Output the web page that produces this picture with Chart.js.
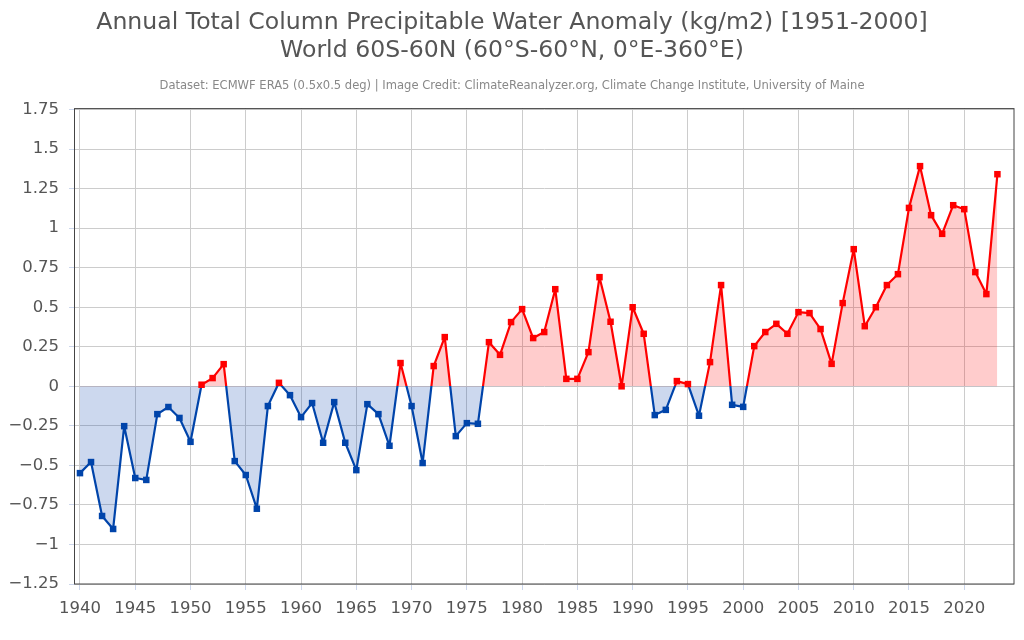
<!DOCTYPE html>
<html>
<head>
<meta charset="utf-8">
<title>Annual Total Column Precipitable Water Anomaly</title>
<script src="https://cdn.jsdelivr.net/npm/chart.js@4/dist/chart.umd.min.js"></script>
<style>
  html, body { margin: 0; padding: 0; background: #fff; }
  canvas { display: block; }
</style>
</head>
<body>
<canvas id="myChart" width="1024" height="640"></canvas>
<script>
var years = [1940, 1941, 1942, 1943, 1944, 1945, 1946, 1947, 1948, 1949,
    1950, 1951, 1952, 1953, 1954, 1955, 1956, 1957, 1958, 1959,
    1960, 1961, 1962, 1963, 1964, 1965, 1966, 1967, 1968, 1969,
    1970, 1971, 1972, 1973, 1974, 1975, 1976, 1977, 1978, 1979,
    1980, 1981, 1982, 1983, 1984, 1985, 1986, 1987, 1988, 1989,
    1990, 1991, 1992, 1993, 1994, 1995, 1996, 1997, 1998, 1999,
    2000, 2001, 2002, 2003, 2004, 2005, 2006, 2007, 2008, 2009,
    2010, 2011, 2012, 2013, 2014, 2015, 2016, 2017, 2018, 2019,
    2020, 2021, 2022, 2023];

var anomalies = [-0.549, -0.479, -0.82, -0.902, -0.252, -0.58, -0.592, -0.176, -0.131, -0.20,
    -0.351, 0.01, 0.052, 0.14, -0.473, -0.561, -0.774, -0.125, 0.022, -0.056,
    -0.195, -0.106, -0.357, -0.10, -0.357, -0.53, -0.113, -0.176, -0.376, 0.147,
    -0.125, -0.485, 0.128, 0.311, -0.315, -0.233, -0.237, 0.279, 0.199, 0.406,
    0.488, 0.305, 0.343, 0.614, 0.047, 0.047, 0.216, 0.69, 0.408, 0.0,
    0.50, 0.332, -0.182, -0.149, 0.033, 0.014, -0.186, 0.153, 0.64, -0.117,
    -0.13, 0.254, 0.343, 0.395, 0.332, 0.469, 0.463, 0.362, 0.142, 0.526,
    0.867, 0.38, 0.50, 0.64, 0.709, 1.128, 1.392, 1.082, 0.964, 1.145,
    1.12, 0.722, 0.583, 1.341];

var titleLines = [
    'Annual Total Column Precipitable Water Anomaly (kg/m2) [1951-2000]',
    'World 60S-60N (60\u00b0S-60\u00b0N, 0\u00b0E-360\u00b0E)'
];
var creditLine = 'Dataset: ECMWF ERA5 (0.5x0.5 deg) | Image Credit: ClimateReanalyzer.org, Climate Change Institute, University of Maine';

var RED = '#ff0000';
var BLUE = '#0044aa';

// line colour flips exactly at the zero line
function zeroGradient(context) {
    var chart = context.chart;
    if (!chart.chartArea) return RED;
    var area = chart.chartArea;
    var stop = (chart.scales.y.getPixelForValue(0) - area.top) / (area.bottom - area.top);
    var g = chart.ctx.createLinearGradient(0, area.top, 0, area.bottom);
    g.addColorStop(0, RED);
    g.addColorStop(stop, RED);
    g.addColorStop(stop, BLUE);
    g.addColorStop(1, BLUE);
    return g;
}

function pointColor(context) {
    return context.parsed && context.parsed.y < 0 ? BLUE : RED;
}

// box around the plot area
var plotBorder = {
    id: 'plotBorder',
    afterDatasetsDraw: function (chart) {
        var a = chart.chartArea, ctx = chart.ctx;
        ctx.save();
        ctx.strokeStyle = '#444';
        ctx.lineWidth = 1;
        ctx.strokeRect(a.left - 0.5, a.top + 0.5, a.right - a.left + 0.5, a.bottom - a.top - 0.5);
        ctx.restore();
    }
};

Chart.defaults.font.family = '"DejaVu Sans", sans-serif';

var myChart = new Chart(document.getElementById('myChart').getContext('2d'), {
    type: 'line',
    data: {
        datasets: [{
            data: years.map(function (y, i) { return {x: y, y: anomalies[i]}; }),
            borderColor: zeroGradient,
            borderWidth: 2.2,
            borderJoinStyle: 'round',
            tension: 0,
            pointStyle: 'rect',
            pointRadius: 4.6,
            pointBorderWidth: 0,
            pointBackgroundColor: pointColor,
            fill: {
                target: {value: 0},
                above: 'rgba(255, 0, 0, 0.2)',
                below: 'rgba(0, 60, 170, 0.2)'
            }
        }]
    },
    options: {
        responsive: false,
        animation: false,
        devicePixelRatio: 1,
        // equal side padding keeps the title centred on the page
        layout: {padding: {left: 10, right: 10}},
        scales: {
            x: {
                type: 'linear',
                min: 1939.55,
                max: 2024.5,
                afterFit: function (scale) { scale.height = 56; },
                grid: {color: '#cccccc', tickColor: '#ccd6eb', tickLength: 6},
                border: {display: false},
                ticks: {
                    stepSize: 5,
                    includeBounds: false,
                    maxRotation: 0,
                    color: '#555555',
                    font: {size: 16.5},
                    padding: 9,
                    callback: function (v) { return String(v); }
                }
            },
            y: {
                min: -1.25,
                max: 1.759,
                afterFit: function (scale) { scale.width = 65; },
                grid: {color: '#cccccc', tickColor: '#ccd6eb', tickLength: 6},
                border: {display: false},
                ticks: {
                    stepSize: 0.25,
                    includeBounds: false,
                    color: '#555555',
                    font: {size: 16.5},
                    padding: 10,
                    callback: function (v) { return String(v).replace('-', '\u2212'); }
                }
            }
        },
        plugins: {
            legend: {display: false},
            tooltip: {enabled: false},
            title: {
                display: true,
                text: titleLines,
                color: '#555555',
                font: {size: 23.6, weight: 'normal'},
                padding: {top: 8.5, bottom: 14}
            },
            subtitle: {
                display: true,
                text: creditLine,
                color: '#888888',
                font: {size: 11.55, weight: 'normal'},
                padding: {top: 0, bottom: 15.1}
            }
        }
    },
    plugins: [plotBorder]
});
</script>
</body>
</html>
